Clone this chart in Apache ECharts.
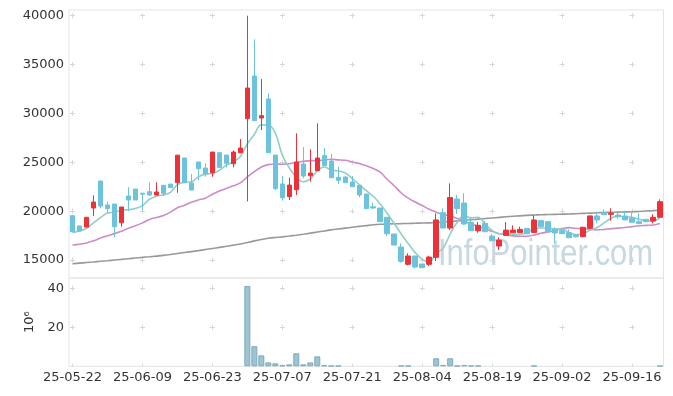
<!DOCTYPE html>
<html>
<head>
<meta charset="utf-8">
<script src="https://cdn.jsdelivr.net/npm/echarts@6/dist/echarts.min.js"></script>
<style>
html,body{margin:0;padding:0;background:#fff;}
#chart{width:673px;height:396px;}
</style>
</head>
<body>
<div id="chart"></div>
<script>
const dates = [
'25-05-22','25-05-23','25-05-26','25-05-27','25-05-28','25-05-29','25-05-30',
'25-06-02','25-06-04','25-06-05','25-06-09','25-06-10','25-06-11','25-06-12','25-06-13','25-06-16','25-06-17','25-06-18','25-06-19','25-06-20','25-06-23','25-06-24','25-06-25','25-06-26','25-06-27','25-06-30',
'25-07-01','25-07-02','25-07-03','25-07-04','25-07-07','25-07-08','25-07-09','25-07-10','25-07-11','25-07-14','25-07-15','25-07-16','25-07-17','25-07-18','25-07-21','25-07-22','25-07-23','25-07-24','25-07-25','25-07-28','25-07-29','25-07-30','25-07-31',
'25-08-01','25-08-04','25-08-05','25-08-06','25-08-07','25-08-08','25-08-11','25-08-12','25-08-13','25-08-14','25-08-18','25-08-19','25-08-20','25-08-21','25-08-22','25-08-25','25-08-26','25-08-27','25-08-28','25-08-29',
'25-09-01','25-09-02','25-09-03','25-09-04','25-09-05','25-09-08','25-09-09','25-09-10','25-09-11','25-09-12','25-09-15','25-09-16','25-09-17','25-09-18','25-09-19','25-09-22'
];
const opens = [19530,18480,18370,20320,23080,20630,20730,18810,21550,22260,21840,21990,21640,22640,22770,22910,25440,22880,25030,24410,
23930,25980,25740,24850,25980,29460,33830,29530,31480,25740,22780,21480,22190,24820,23620,24140,25680,25130,23460,23490,
22980,22640,21750,20450,20320,19370,17660,16330,14560,15410,14590,14560,15270,19840,18270,21240,20830,18850,17990,18750,
17450,16430,17520,17780,17820,18230,17820,19030,18920,18140,18000,17800,17550,17380,18240,19510,19840,19670,19600,19500,
19270,18920,19170,18990,19370];
const closes = [17890,17960,19370,20930,20520,20250,18400,20420,21140,21140,21740,21640,21960,21820,22400,25730,22910,22160,24340,23800,
26050,24480,24890,26050,26460,32600,29260,29770,25980,22300,21370,22670,25030,23590,23900,25440,24650,23420,23150,22910,
22500,21650,20250,20320,18920,17690,16530,14860,15410,14280,14210,15300,19100,18270,21390,20250,18680,17990,18550,17890,
16970,17040,18060,18060,18130,17690,19100,18410,17890,17760,17690,17280,17380,18350,19510,19100,19630,19780,19440,19100,
18860,18720,18920,19370,20970];
const lows = [17850,17940,18370,19500,20290,19780,17320,18400,20010,21140,20110,21600,21640,21550,22400,21880,22910,22160,23180,23520,
23520,24480,24480,24480,25900,21000,29260,28300,25980,22160,21070,21140,21650,23360,23010,24100,24650,23420,22770,22910,
22500,21410,20250,20250,18920,17450,16530,14720,14450,14150,14210,14380,14890,18270,18070,19700,18600,17990,17790,17890,
16970,16020,17450,17780,17820,17690,17820,18410,17890,16770,17690,17280,17280,17350,18240,18750,19630,19030,19230,19100,
18860,18720,18920,18750,19370];
const highs = [19560,18500,19370,21620,23100,20970,20730,20440,22440,22260,21850,22950,22950,22670,22770,25730,25440,23800,25030,24900,
26050,26080,25740,26210,27380,40000,37580,33520,32060,25740,23590,23420,27960,26560,26330,28990,26460,25850,24540,23590,
23590,22640,21750,20860,20320,19370,17660,16700,15680,15410,14590,15440,19780,20290,22840,21680,21820,19370,18890,18990,
17660,17320,18890,18550,18410,18230,19580,19030,18920,18350,18240,18140,17600,18400,19510,19950,20180,20290,19840,20050,
19840,19780,19170,19680,21210];
const volumes = [0.04,0.04,0.04,0.04,0.04,0.04,0.04,0.04,0.04,0.04,0.04,0.04,0.04,0.04,0.04,0.04,0.04,0.04,0.04,0.04,
0.04,0.04,0.04,0.04,0.04,41.2,10.3,5.6,2.0,1.5,0.5,1.0,6.7,1.0,2.0,5.1,0.5,0.3,0.3,0.04,
0.04,0.04,0.04,0.04,0.04,0.04,0.04,0.3,0.3,0.04,0.04,0.04,4.1,0.7,4.1,0.3,0.6,0.3,0.3,0.04,
0.04,0.04,0.04,0.04,0.04,0.04,0.3,0.04,0.04,0.04,0.04,0.04,0.04,0.04,0.04,0.04,0.04,0.04,0.04,0.04,
0.04,0.04,0.04,0.04,0.3];
const ma5 = [17800,17960,18250,18800,19334,19806,19894,20104,20146,20270,20568,21216,21524,21660,21912,22710,22964,23004,23508,23788,
23852,24166,24712,25054,25586,26896,27852,28828,28814,27982,25736,24418,23470,22992,23312,24126,24522,24200,24112,23914,
23326,22726,22092,21526,20728,19766,18742,17664,16682,15754,15058,14812,15660,16232,17654,18862,19538,19316,19372,18672,
18016,17688,17702,17604,17652,17796,18208,18278,18244,18170,18170,17806,17600,17692,18042,18324,18794,19274,19492,19410,
19362,19180,19008,18994,19368];
const ma20 = [16530,16620,16740,16960,17250,17480,17700,17950,18250,18500,18800,19150,19350,19550,19900,20350,20600,20900,21150,21326,
21734,22060,22336,22592,22889,23507,24050,24517,24759,24817,24799,24850,25004,25092,25167,25153,25240,25303,25243,25199,
25021,24880,24648,24361,23984,23239,22602,21857,21328,20927,20569,20201,19904,19638,19513,19253,18955,18683,18453,18202,
17926,17695,17586,17473,17433,17433,17562,17739,17863,18037,18211,18310,18224,18228,18134,18077,18124,18214,18258,18319,
18413,18497,18540,18584,18726];
const maLong = [14620,14680,14740,14800,14870,14930,15000,15060,15130,15200,15270,15330,15400,15470,15560,15660,15760,15860,15960,16070,
16180,16290,16400,16520,16630,16800,16960,17100,17220,17300,17370,17450,17540,17640,17750,17860,17970,18080,18170,18260,
18350,18440,18520,18600,18660,18690,18710,18720,18740,18760,18780,18800,18840,18890,18940,19000,19060,19120,19180,19240,
19300,19360,19420,19470,19520,19570,19600,19630,19650,19670,19690,19710,19740,19770,19800,19830,19860,19880,19900,19920,
19940,19970,20010,20050,20100];
const priceTicks = [15000,20000,25000,30000,35000,40000];
const volumeTicks = [20,40];

const ohlc = dates.map((d,i)=>[opens[i],closes[i],lows[i],highs[i]]);
const volumeData = volumes.map(v => v < 0.1 ? {value: v, itemStyle: {borderWidth: 0}} : v);

const FONT = 'DejaVu Sans';
const crossColor = '#d6d6d6';
const chart = echarts.init(document.getElementById('chart'), null, {renderer:'canvas'});
const gridL = 69, gridW = 594.5;
const band = gridW / dates.length;

const option = {
  animation: false,
  graphic: [{
    type: 'text', x: 438, y: 255, scaleX: 0.86, z: 0, silent: true,
    style: { text: 'InfoPointer.com', font: '36px "Liberation Sans"', fill: '#c7d8e3',
      textAlign: 'left', textVerticalAlign: 'middle' }
  }],
  grid: [
    {left: gridL, top: 10, width: gridW, height: 268, show: true, borderColor: '#e4e4e4', borderWidth: 1},
    {left: gridL, top: 278, width: gridW, height: 88.3, show: true, borderColor: '#e4e4e4', borderWidth: 1}
  ],
  xAxis: [
    {type: 'category', gridIndex: 0, data: dates, boundaryGap: true,
      axisLine: {show: false}, axisTick: {show: false}, axisLabel: {show: false},
      splitLine: {show: true, interval: 9, alignWithLabel: true,
        lineStyle: {color: crossColor, width: 1, type: [5, 43.86], dashOffset: -3.2}}},
    {type: 'category', gridIndex: 1, data: dates, boundaryGap: true,
      axisLine: {show: false}, axisTick: {show: false},
      axisLabel: {interval: 9, color: '#333', fontFamily: FONT, fontSize: 13, margin: 5},
      splitLine: {show: true, interval: 9, alignWithLabel: true,
        lineStyle: {color: crossColor, width: 1, type: [5, 34], dashOffset: -7.8}}}
  ],
  yAxis: [
    {type: 'value', gridIndex: 0, min: 13158, max: 40583, scale: true,
      axisLine: {show: false},
      axisTick: {show: false, customValues: priceTicks},
      axisLabel: {customValues: priceTicks, formatter: v => String(v), color: '#333', fontFamily: FONT, fontSize: 13, margin: 5},
      splitLine: {show: true, lineStyle: {color: crossColor, width: 1, type: [5, 10*band - 5], dashOffset: -1}}},
    {type: 'value', gridIndex: 1, min: 0, max: 45.28,
      name: '10\u2076', nameLocation: 'middle', nameRotate: 90, nameGap: 31,
      nameTextStyle: {color: '#333', fontFamily: FONT, fontSize: 13},
      axisLine: {show: false},
      axisTick: {show: false, customValues: volumeTicks},
      axisLabel: {customValues: volumeTicks, color: '#333', fontFamily: FONT, fontSize: 13, margin: 5},
      splitLine: {show: true, lineStyle: {color: crossColor, width: 1, type: [5, 10*band - 5], dashOffset: -1}}}
  ],
  series: [
    {type: 'line', name: 'MA60', xAxisIndex: 0, yAxisIndex: 0, data: maLong, symbol: 'none', smooth: 0.3, z: 2,
      lineStyle: {color: '#999999', width: 1.6}},
    {type: 'line', name: 'MA20', xAxisIndex: 0, yAxisIndex: 0, data: ma20, symbol: 'none', smooth: 0.3, z: 2,
      lineStyle: {color: '#cc8cc8', width: 1.6}},
    {type: 'line', name: 'MA5', xAxisIndex: 0, yAxisIndex: 0, data: ma5, symbol: 'none', smooth: 0.4, z: 2,
      lineStyle: {color: '#8fcfc5', width: 1.6}},
    {type: 'candlestick', xAxisIndex: 0, yAxisIndex: 0, data: ohlc, barWidth: 5, z: 3,
      itemStyle: {color: '#ec3238', color0: '#6cc3dc', borderColor: '#ec3238', borderColor0: '#6cc3dc', borderWidth: 1}},
    {type: 'bar', xAxisIndex: 1, yAxisIndex: 1, data: volumeData, barWidth: 6,
      itemStyle: {color: '#9cc4d2', borderColor: '#7eaabb', borderWidth: 1}}
  ]
};
chart.setOption(option);
</script>
</body>
</html>
